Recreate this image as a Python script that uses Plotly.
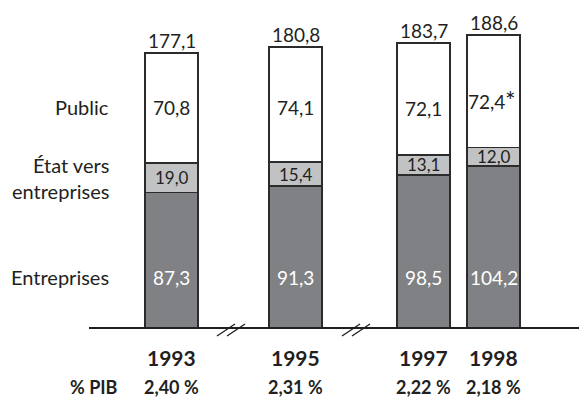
import plotly.graph_objects as go

# Dépense intérieure de R&D par source de financement (milliards de francs)
years = ["1993", "1995", "1997", "1998"]
entreprises = [87.3, 91.3, 98.5, 104.2]
etat_vers_entreprises = [19.0, 15.4, 13.1, 12.0]
public = [70.8, 74.1, 72.1, 72.4]
pib_share = ["2,40 %", "2,31 %", "2,22 %", "2,18 %"]
series_names = ["Entreprises", "État vers<br>entreprises", "Public"]
flagged_year = "1998"  # value marked with an asterisk

# Page geometry (pixels): the x axis is laid out 1:1 with the page width,
# the value axis is scaled so that the baseline sits at BASE_PX.
W, H = 579, 399
BASE_PX = 328
PX_PER_UNIT = 1.553
bar_x = [171.5, 295.5, 423.5, 493.5]
bar_w = 53

FONT = "Lato"
INK = "#231f20"
DARK = "#808184"
LIGHT = "#c1c2c4"


def fmt(v):
    return f"{v:.1f}".replace(".", ",")


def py_to_val(py):
    return (BASE_PX - py) / PX_PER_UNIT


fig = go.Figure()
for vals, color, name in zip([entreprises, etat_vers_entreprises, public],
                             [DARK, LIGHT, "white"], series_names):
    fig.add_trace(go.Bar(
        x=bar_x, y=vals, width=bar_w, name=name,
        marker=dict(color=color, line=dict(color="#2b2b2b", width=1.7)),
        hoverinfo="skip", showlegend=False,
    ))

totals = [a + b + c for a, b, c in zip(entreprises, etat_vers_entreprises, public)]
ann = []

# totals above the bars
for x, t in zip(bar_x, totals):
    ann.append(dict(x=x, y=t, text=fmt(t), yanchor="bottom", yshift=-1,
                    font=dict(size=19, color=INK)))

# values inside the segments
ent_label_py = 277
pub_label_py = [107, 107, 108, 101]
for i, x in enumerate(bar_x):
    ann.append(dict(x=x, y=py_to_val(ent_label_py), text=fmt(entreprises[i]),
                    font=dict(size=19, color="white")))
    ann.append(dict(x=x, y=entreprises[i] + etat_vers_entreprises[i] / 2,
                    text=fmt(etat_vers_entreprises[i]),
                    font=dict(size=17, color=INK)))
    xs = -7 if years[i] == flagged_year else 0
    ann.append(dict(x=x, y=py_to_val(pub_label_py[i]), text=fmt(public[i]),
                    xshift=xs, font=dict(size=19, color=INK)))
    if years[i] == flagged_year:
        ann.append(dict(x=x, y=py_to_val(pub_label_py[i]), text="*",
                        xshift=17, yshift=1, font=dict(size=25, color=INK)))

# series names on the left
ann.append(dict(x=111, y=py_to_val(107), text="Public", xanchor="right",
                font=dict(size=20, color=INK)))
ann.append(dict(x=111, y=py_to_val(178), text=series_names[1], xanchor="right",
                align="right", font=dict(size=20, color=INK)))
ann.append(dict(x=111, y=py_to_val(277), text=series_names[0], xanchor="right",
                font=dict(size=20, color=INK)))

# years and share of GDP under the axis
for x, yr, p in zip(bar_x, years, pib_share):
    ann.append(dict(x=x, y=py_to_val(357), text=f"<b>{yr}</b>",
                    font=dict(size=21, color=INK)))
    ann.append(dict(x=x, y=py_to_val(387), text=f"<b>{p}</b>",
                    font=dict(size=18, color=INK)))
ann.append(dict(x=93.5, y=py_to_val(387), text="<b>% PIB</b>",
                font=dict(size=18, color=INK)))

for a in ann:
    a.setdefault("showarrow", False)
    a["xref"] = "x"
    a["yref"] = "y"

shapes = [dict(type="line", xref="x", yref="y", x0=89, x1=W, y0=0, y1=0,
               line=dict(color=INK, width=2.2), layer="above")]
# axis break marks
for bx in [217, 342]:
    for dx in [0, 10]:
        shapes.append(dict(type="line", xref="x", yref="y",
                           x0=bx + dx, y0=py_to_val(336),
                           x1=bx + dx + 18, y1=py_to_val(324),
                           line=dict(color=INK, width=1.3), layer="above"))

fig.update_layout(
    width=W, height=H, margin=dict(l=0, r=0, t=0, b=0),
    paper_bgcolor="white", plot_bgcolor="white",
    barmode="stack", font=dict(family=FONT, color=INK),
    xaxis=dict(range=[0, W], visible=False, fixedrange=True),
    yaxis=dict(range=[py_to_val(H), py_to_val(0)], visible=False, fixedrange=True),
    annotations=ann, shapes=shapes,
)

fig.write_html("out.html")
